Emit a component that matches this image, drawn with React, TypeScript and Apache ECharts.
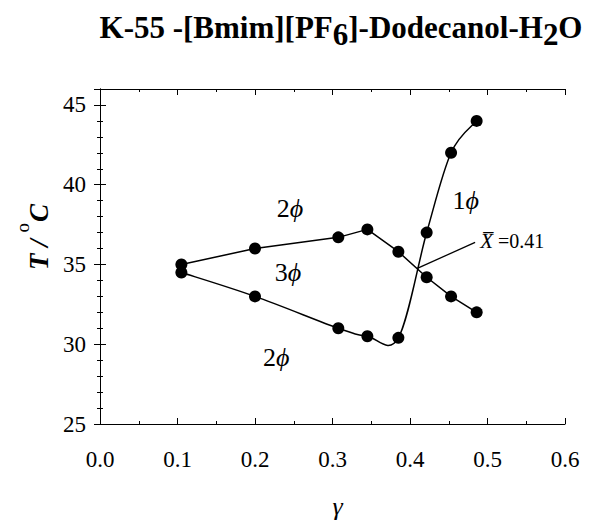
import React, { useEffect, useRef } from 'react';
import * as echarts from 'echarts';

// Phase boundary data (gamma, T / °C)
const upperGamma = [0.105, 0.2, 0.3075, 0.345, 0.385, 0.4215, 0.453, 0.486];
const upperT = [35.0, 36.0, 36.7, 37.2, 35.8, 34.2, 33.0, 32.0];
const lowerGamma = [0.105, 0.2, 0.3075, 0.345, 0.385, 0.4215, 0.453, 0.486];
const lowerT = [34.5, 33.0, 31.0, 30.5, 30.4, 37.0, 42.0, 44.0];

// Pointer line to the X-bar point
const pointerGamma = [0.4094, 0.484];
const pointerT = [34.75, 36.39];

// Region labels
const regionGamma = [0.2452, 0.2426, 0.2275, 0.472];
const regionT = [38.53, 34.47, 29.2, 38.99];
const regionDigit = ['2', '3', '2', '1'];

// X-bar annotation
const xbarGamma = [0.4905];
const xbarT = [36.47];
const xbarValue = ['0.41'];

// Axes
const xMin = 0;
const xMax = 0.6;
const xStep = 0.1;
const yMin = 25;
const yMax = 46;
const yStep = 5;

const SERIF = "'Liberation Serif', 'Times New Roman', serif";

export default function App() {
  const ref = useRef<HTMLDivElement>(null);

  useEffect(() => {
    document.body.style.margin = '0';
    if (!ref.current) return;
    const chart = echarts.init(ref.current, null, { renderer: 'svg' });

    const pairs = (xs: number[], ys: number[]) => xs.map((x, i) => [x, ys[i]]);

    const axisCommon = {
      type: 'value' as const,
      splitLine: { show: false },
      axisLine: { show: true, lineStyle: { color: '#000', width: 1 } },
      axisTick: { show: true, inside: true, length: 6, lineStyle: { color: '#000', width: 1 } },
    };

    const tickFont = { fontFamily: SERIF, fontSize: 23, color: '#000' };

    const option: any = {
      animation: false,
      backgroundColor: '#fff',
      title: {
        text: '{b|K-55 -[Bmim][PF}{s|6}{b|]-Dodecanol-H}{s|2}{b|O}',
        left: 341,
        textAlign: 'center',
        top: 12,
        padding: 0,
        textStyle: {
          rich: {
            b: { fontFamily: SERIF, fontWeight: 'bold', fontSize: 31, color: '#000', verticalAlign: 'top', lineHeight: 34 },
            s: { fontFamily: SERIF, fontWeight: 'bold', fontSize: 31, color: '#000', verticalAlign: 'top', lineHeight: 34, padding: [7, 0, 0, 0] },
          },
        },
      },
      grid: { left: 100, right: 24, top: 89, bottom: 99 },
      xAxis: [
        {
          ...axisCommon,
          min: xMin,
          max: xMax,
          interval: xStep,
          position: 'bottom',
          minorTick: { show: true, splitNumber: 2, length: 3, lineStyle: { color: '#000', width: 1 } },
          axisLabel: {
            show: true,
            margin: 24,
            ...tickFont,
            formatter: (v: number) => v.toFixed(1),
          },
          name: 'γ',
          nameLocation: 'middle',
          nameGap: 69,
          nameTextStyle: { fontFamily: SERIF, fontStyle: 'italic', fontSize: 26, color: '#000', padding: [0, 0, 0, 10] },
        },
        {
          ...axisCommon,
          min: xMin,
          max: xMax,
          interval: xStep,
          position: 'top',
          minorTick: { show: true, splitNumber: 2, length: 3, lineStyle: { color: '#000', width: 1 } },
          axisLabel: { show: false },
        },
      ],
      yAxis: [
        {
          ...axisCommon,
          min: yMin,
          max: yMax,
          interval: yStep,
          position: 'left',
          minorTick: { show: true, splitNumber: 5, length: 3, lineStyle: { color: '#000', width: 1 } },
          axisLabel: {
            show: true,
            margin: 14,
            ...tickFont,
            formatter: (v: number) => (v % yStep === 0 ? String(v) : ''),
          },
        },
        {
          ...axisCommon,
          min: yMin,
          max: yMax,
          interval: yStep,
          position: 'right',
          minorTick: { show: true, splitNumber: 5, length: 3, lineStyle: { color: '#000', width: 1 } },
          axisLabel: { show: false },
        },
      ],
      graphic: [
        {
          type: 'text',
          x: 28,
          y: 237,
          rotation: Math.PI / 2,
          style: {
            text: '{t|T / }{o|o}{t|C}',
            align: 'center',
            verticalAlign: 'middle',
            textAlign: 'center',
            textVerticalAlign: 'middle',
            rich: {
              t: { fontFamily: SERIF, fontStyle: 'italic', fontWeight: 'bold', fontSize: 27, fill: '#000', color: '#000', verticalAlign: 'top', lineHeight: 30, padding: [12, 0, 0, 0] },
              o: { fontFamily: SERIF, fontSize: 19, fill: '#000', color: '#000', verticalAlign: 'top', lineHeight: 18, padding: [0, 1, 0, 0] },
            },
          },
        },
      ],
      series: [
        {
          name: 'upper',
          type: 'line',
          data: pairs(upperGamma, upperT),
          symbol: 'circle',
          symbolSize: 12,
          smooth: false,
          itemStyle: { color: '#000' },
          lineStyle: { color: '#000', width: 1.5 },
          z: 3,
        },
        {
          name: 'lowerCurve',
          type: 'custom',
          coordinateSystem: 'cartesian2d',
          data: pairs(lowerGamma, lowerT),
          renderItem: (params: any, api: any) => {
            const n = lowerGamma.length;
            const i = params.dataIndex;
            if (i >= n - 1) return null;
            const c = (k: number) => Math.max(0, Math.min(n - 1, k));
            const pt = (k: number) => api.coord([lowerGamma[c(k)], lowerT[c(k)]]);
            const p0 = pt(i - 1);
            const p1 = pt(i);
            const p2 = pt(i + 1);
            const p3 = pt(i + 2);
            return {
              type: 'bezierCurve',
              shape: {
                x1: p1[0],
                y1: p1[1],
                x2: p2[0],
                y2: p2[1],
                cpx1: p1[0] + (p2[0] - p0[0]) / 6,
                cpy1: p1[1] + (p2[1] - p0[1]) / 6,
                cpx2: p2[0] - (p3[0] - p1[0]) / 6,
                cpy2: p2[1] - (p3[1] - p1[1]) / 6,
              },
              style: { stroke: '#000', lineWidth: 1.5, fill: 'none' },
            };
          },
          z: 2,
        },
        {
          name: 'lowerPoints',
          type: 'scatter',
          data: pairs(lowerGamma, lowerT),
          symbol: 'circle',
          symbolSize: 12,
          itemStyle: { color: '#000', opacity: 1 },
          z: 3,
        },
        {
          name: 'pointer',
          type: 'line',
          data: pairs(pointerGamma, pointerT),
          symbol: 'none',
          lineStyle: { color: '#000', width: 1.3 },
          z: 2,
        },
        {
          name: 'regions',
          type: 'scatter',
          symbolSize: 0,
          itemStyle: { opacity: 1 },
          data: regionGamma.map((g, i) => [g, regionT[i], regionDigit[i]]),
          label: {
            show: true,
            position: 'inside',
            color: '#000',
            formatter: (p: any) => `{n|${p.value[2]}}{p|ϕ}`,
            rich: {
              n: { fontFamily: SERIF, fontSize: 26, color: '#000' },
              p: { fontFamily: SERIF, fontStyle: 'italic', fontSize: 26, color: '#000' },
            },
          },
          z: 4,
        },
        {
          name: 'xbar',
          type: 'scatter',
          symbolSize: 0,
          itemStyle: { opacity: 1 },
          data: xbarGamma.map((g, i) => [g, xbarT[i], xbarValue[i]]),
          label: {
            show: true,
            position: 'inside',
            align: 'left',
            color: '#000',
            formatter: (p: any) => `{x|X\u0305}{e| =${p.value[2]}}`,
            rich: {
              x: { fontFamily: SERIF, fontStyle: 'italic', fontSize: 21, color: '#000' },
              e: { fontFamily: SERIF, fontSize: 20, color: '#000' },
            },
          },
          z: 4,
        },
      ],
    };

    chart.setOption(option);
    return () => chart.dispose();
  }, []);

  return <div ref={ref} style={{ width: 589, height: 524 }} />;
}
